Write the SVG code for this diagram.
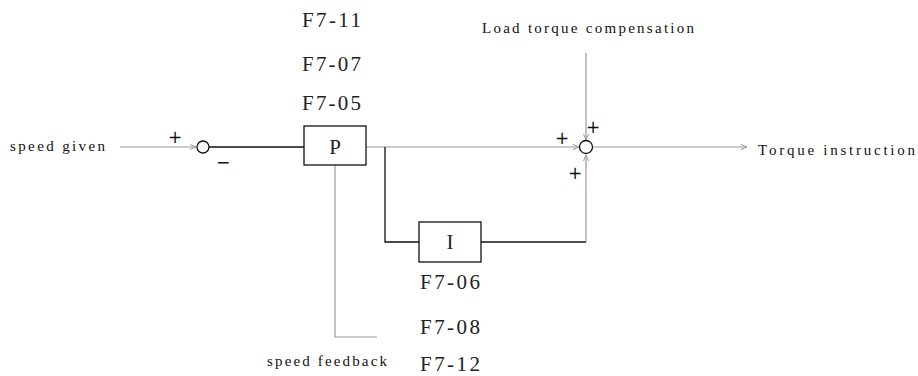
<svg xmlns="http://www.w3.org/2000/svg" width="918" height="376" viewBox="0 0 918 376">
<style>
.g{stroke:#9a9a9a;stroke-width:1.2;fill:none}
.k{stroke:#111;stroke-width:1.3;fill:none}
.blk{fill:#fff;stroke:#111;stroke-width:1.3}
.sm{font-family:"Liberation Serif",serif;font-size:15px;fill:#111}
.lg{font-family:"Liberation Serif",serif;font-size:21px;fill:#222}
.sg{font-family:"DejaVu Sans",sans-serif;font-size:17px;fill:#111}
</style>
<defs>
<marker id="ar" markerWidth="8" markerHeight="8" refX="7" refY="4" orient="auto" markerUnits="userSpaceOnUse">
<path d="M1,1.5 L7,4 L1,6.5" fill="none" stroke="#9a9a9a" stroke-width="1"/>
</marker>
</defs>
<g id="connectors">
<line class="g" x1="120" y1="147" x2="196" y2="147" marker-end="url(#ar)"/>
<line class="k" x1="209" y1="147" x2="304" y2="147"/>
<line class="g" x1="366" y1="147" x2="579" y2="147" marker-end="url(#ar)"/>
<polyline class="k" points="385,147 385,242 419,242"/>
<polyline class="k" points="481,242 586,242"/>
<line class="g" x1="586" y1="242" x2="586" y2="155" marker-end="url(#ar)"/>
<line class="g" x1="586" y1="53" x2="586" y2="140" marker-end="url(#ar)"/>
<line class="g" x1="593" y1="147" x2="747" y2="147" marker-end="url(#ar)"/>
<polyline class="g" points="335,165 335,337 377,337"/>
</g>
<g id="sum1">
<circle cx="203" cy="147" r="6" fill="#fff" stroke="#111" stroke-width="1.3"/>
<text class="sg" x="175" y="143" text-anchor="middle">+</text>
<text class="sg" x="223" y="168" text-anchor="middle">−</text>
</g>
<g id="sum2">
<circle cx="586" cy="147" r="6.5" fill="#fff" stroke="#111" stroke-width="1.3"/>
<text class="sg" x="562" y="144" text-anchor="middle">+</text>
<text class="sg" x="593" y="133" text-anchor="middle">+</text>
<text class="sg" x="575" y="179" text-anchor="middle">+</text>
</g>
<g id="P">
<rect class="blk" x="304" y="126" width="62" height="39"/>
<text class="lg" x="335" y="154" text-anchor="middle">P</text>
<text class="lg" x="302" y="27" textLength="59">F7-11</text>
<text class="lg" x="302" y="71" textLength="59">F7-07</text>
<text class="lg" x="302" y="110" textLength="59">F7-05</text>
</g>
<g id="I">
<rect class="blk" x="419" y="222" width="62" height="40"/>
<text class="lg" x="450" y="249" text-anchor="middle">I</text>
<text class="lg" x="420" y="289" textLength="60">F7-06</text>
<text class="lg" x="420" y="334" textLength="60">F7-08</text>
<text class="lg" x="420" y="371" textLength="60">F7-12</text>
</g>
<g id="labels">
<text class="sm" x="10" y="151" textLength="95">speed given</text>
<text class="sm" x="267" y="366" textLength="120">speed feedback</text>
<text class="sm" x="482" y="33" textLength="212">Load torque compensation</text>
<text class="sm" x="758" y="155" textLength="157">Torque instruction</text>
</g>
</svg>
